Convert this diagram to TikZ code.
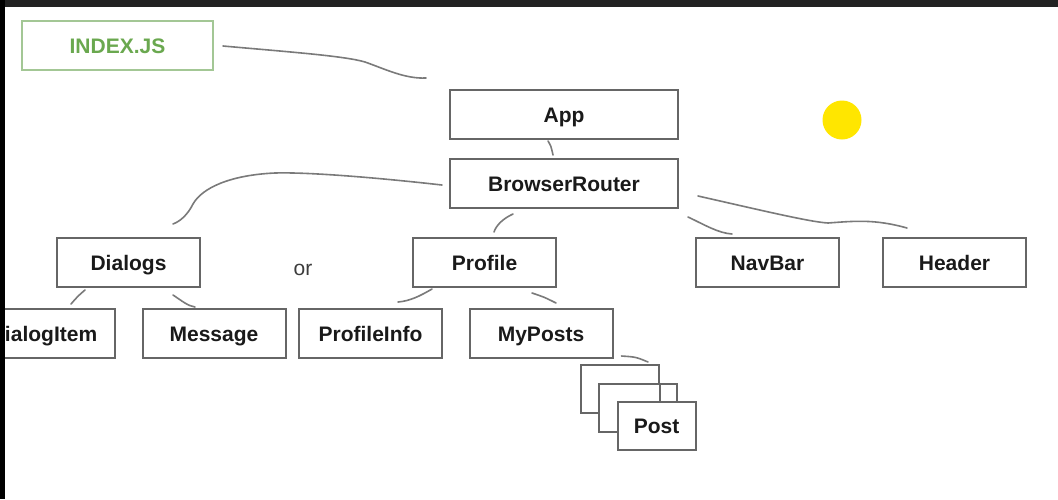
\documentclass[tikz,border=0pt]{standalone}
\usepackage{fontspec}
\setmainfont{Liberation Sans}
\begin{document}
\begin{tikzpicture}[x=1pt,y=-1pt,
  box/.style={draw=boxgray, line width=2pt, fill=white, inner sep=0pt,
    minimum width=143pt, minimum height=49pt, text height=15pt, text depth=0pt,
    font=\fontsize{21}{24}\selectfont\bfseries, text=txt},
  widebox/.style={box, minimum width=228pt},
  postbox/.style={box, minimum width=78pt, minimum height=48pt},
  conn/.style={draw=linegray, line width=1.6pt, line cap=round}]
\definecolor{boxgray}{HTML}{666666}
\definecolor{linegray}{HTML}{7A7A7A}
\definecolor{txt}{HTML}{1A1A1A}
\definecolor{idxgreen}{HTML}{6AA84F}
\definecolor{idxborder}{HTML}{A3C795}
\definecolor{sun}{HTML}{FFE600}
\definecolor{frametop}{HTML}{222222}
\useasboundingbox (0,0) rectangle (1058,499);
\fill[white] (0,0) rectangle (1058,499);

\node[box, draw=idxborder, text=idxgreen, minimum width=191pt] (index) at (117.5,45.5) {INDEX.JS};
\node[widebox] (app) at (564,114.5) {App};
\node[widebox] (br) at (564,183.5) {BrowserRouter};
\node[box] (dialogs) at (128.5,262.5) {Dialogs};
\node[box] (profile) at (484.5,262.5) {Profile};
\node[box] (navbar) at (767.5,262.5) {NavBar};
\node[box] (header) at (954.5,262.5) {Header};
\node[box] (dialogitem) at (43.5,333.5) {DialogItem};
\node[box] (message) at (214,333.5) {Message};
\node[box] (profileinfo) at (370.5,333.5) {ProfileInfo};
\node[box] (myposts) at (541,333.5) {MyPosts};
\node[font=\fontsize{21}{24}\selectfont, text=txt!85, inner sep=0pt] (or) at (303,270) {or};
\node[circle, fill=sun, minimum size=39pt, inner sep=0pt] (dot) at (842,120) {};

\node[postbox] (post1) at (620,389) {};
\node[postbox] (post2) at (638,407.5) {};
\draw[draw=boxgray, line width=2pt] (post1.east |- post2.north) -- (post1.south east);
\node[postbox] (post3) at (656.5,425.5) {Post};

% connectors
\draw[conn] ([shift={(9,0.5)}]index.east) .. controls (290,52) and (345,56) .. (365,62)
  .. controls (385,69) and (405,79) .. ([shift={(-23,-11)}]app.north west);
\draw[conn] ([shift={(-16,1)}]app.south) .. controls (551,146) .. ([shift={(-11,-3)}]br.north);
\draw[conn] ([shift={(-7,1.5)}]br.west) .. controls (380,178) and (310,172) .. (275,173)
  .. controls (230,175) and (202,188) .. (193,204)
  .. controls (188,214) and (181,221) .. ([shift={(44.5,-13)}]dialogs.north);
\draw[conn] ([shift={(-51,5)}]br.south) .. controls (502,219) and (496,226) .. ([shift={(9.5,-5)}]profile.north);
\draw[conn] ([shift={(9,8)}]br.south east) .. controls (705,225) and (718,233) .. ([shift={(-35.5,-3)}]navbar.north);
\draw[conn] ([shift={(19,12.5)}]br.east) .. controls (760,210) and (810,222) .. (828,223)
  .. controls (855,221) and (875,219) .. ([shift={(-47.5,-9)}]header.north);
\draw[conn] ([shift={(-43.5,2)}]dialogs.south) .. controls (78,296) .. ([shift={(27.5,-4)}]dialogitem.north);
\draw[conn] ([shift={(-28,7)}]dialogs.south east) .. controls (182,301) and (188,306) .. ([shift={(-19,-1)}]message.north);
\draw[conn] ([shift={(20,1)}]profile.south west) .. controls (420,296) and (410,301) .. ([shift={(-45,-6)}]profileinfo.north east);
\draw[conn] ([shift={(47.5,5)}]profile.south) .. controls (544,297) .. ([shift={(15,-5)}]myposts.north);
\draw[conn] ([shift={(8,-3)}]myposts.south east) .. controls (636,357) .. ([shift={(-12,-2)}]post1.north east);

% frame bands
\fill[frametop] (0,0) rectangle (1058,7);
\fill[black] (0,0) rectangle (5,499);
\end{tikzpicture}
\end{document}
